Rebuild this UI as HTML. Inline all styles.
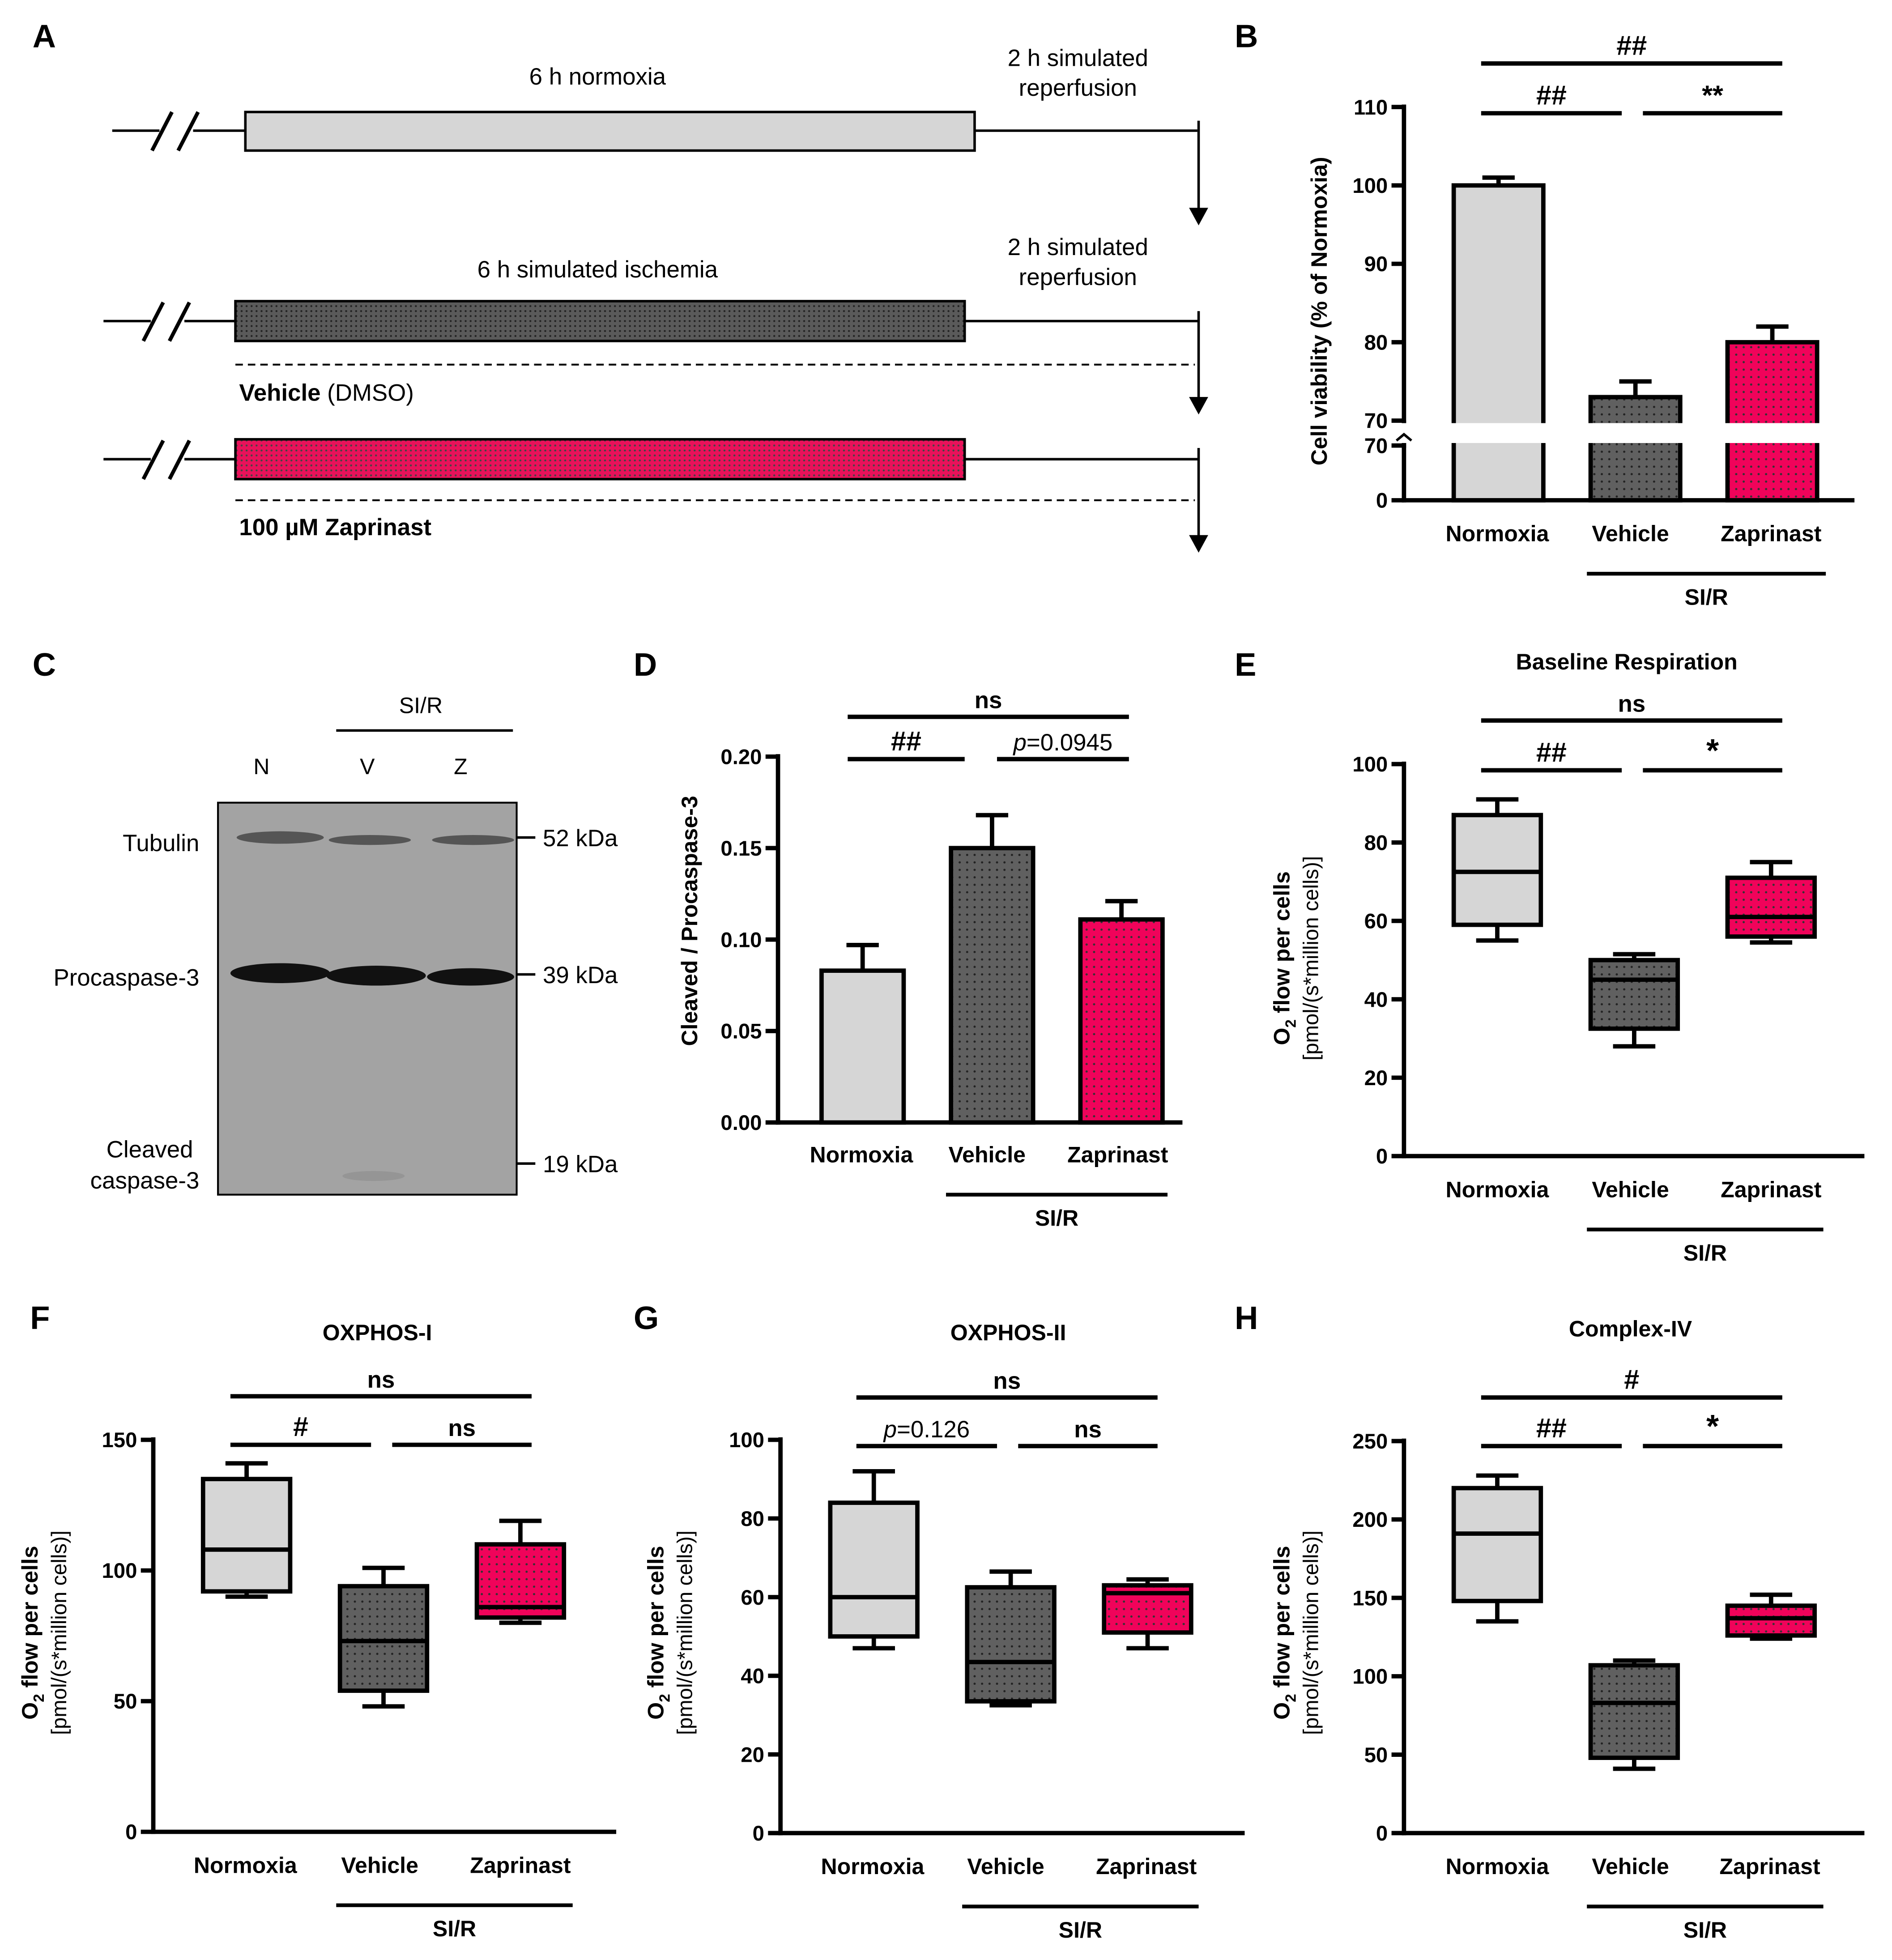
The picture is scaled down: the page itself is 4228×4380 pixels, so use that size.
<!DOCTYPE html>
<html><head><meta charset="utf-8"><style>
html,body{margin:0;padding:0;background:#fff}
svg{display:block}
text{font-family:"Liberation Sans",Arial,sans-serif;fill:#000}
.b{font-weight:bold}
</style></head><body>
<svg id="fig" width="4228" height="4380" viewBox="0 0 1520 1575" xmlns="http://www.w3.org/2000/svg">
<defs>
<pattern id="dotD" width="6" height="6" patternUnits="userSpaceOnUse"><rect width="6" height="6" fill="#606060"/><circle cx="3" cy="3" r="0.9" fill="#222"/></pattern>
<pattern id="dotP" width="6" height="6" patternUnits="userSpaceOnUse"><rect width="6" height="6" fill="#f0035a"/><circle cx="3" cy="3" r="0.9" fill="#333"/></pattern>
<pattern id="dotS" width="4" height="4" patternUnits="userSpaceOnUse"><rect width="4" height="4" fill="#5a5a5a"/><circle cx="2" cy="2" r="0.8" fill="#222"/></pattern>
<pattern id="dotSP" width="4" height="4" patternUnits="userSpaceOnUse"><rect width="4" height="4" fill="#e8125a"/><circle cx="2" cy="2" r="0.8" fill="#444"/></pattern>
</defs>

<!-- Panel A -->
<g stroke="#000" stroke-width="2">
<text x="26" y="38" class="b" font-size="26" stroke="none">A</text>
<line x1="90" y1="105" x2="962" y2="105"/>
<rect x="197" y="90" width="586" height="31" fill="#d6d6d6"/>
<line x1="83" y1="258" x2="963" y2="258"/>
<rect x="189" y="242" width="586" height="32" fill="url(#dotS)"/>
<line x1="189" y1="293" x2="960" y2="293" stroke-dasharray="6,4" stroke-width="1.5"/>
<line x1="83" y1="369" x2="963" y2="369"/>
<rect x="189" y="353" width="586" height="32" fill="url(#dotSP)"/>
<line x1="189" y1="402" x2="960" y2="402" stroke-dasharray="6,4" stroke-width="1.5"/>
<line x1="963" y1="97" x2="963" y2="172"/><path d="M957,168 L963,179 L969,168Z" fill="#000"/>
<line x1="963" y1="250" x2="963" y2="324"/><path d="M957,320 L963,331 L969,320Z" fill="#000"/>
<line x1="963" y1="360" x2="963" y2="435"/><path d="M957,431 L963,442 L969,431Z" fill="#000"/>
<g stroke="#fff" stroke-width="8"><line x1="128" y1="105" x2="155" y2="105"/><line x1="121" y1="258" x2="148" y2="258"/><line x1="121" y1="369" x2="148" y2="369"/></g>
<g stroke-width="3"><line x1="122" y1="121" x2="138" y2="90"/><line x1="143" y1="121" x2="159" y2="90"/>
<line x1="115" y1="274" x2="131" y2="243"/><line x1="136" y1="274" x2="152" y2="243"/>
<line x1="115" y1="385" x2="131" y2="354"/><line x1="136" y1="385" x2="152" y2="354"/></g>
<g stroke="none" font-size="19" text-anchor="middle">
<text x="480" y="68">6 h normoxia</text>
<text x="866" y="53">2 h simulated</text><text x="866" y="77">reperfusion</text>
<text x="480" y="223">6 h simulated ischemia</text>
<text x="866" y="205">2 h simulated</text><text x="866" y="229">reperfusion</text>
<text x="192" y="322" text-anchor="start"><tspan class="b">Vehicle</tspan> (DMSO)</text>
<text x="192" y="430" text-anchor="start" class="b">100 µM Zaprinast</text>
</g>
</g>

<!-- Panel C -->
<g>
<text x="26" y="543" class="b" font-size="26">C</text>
<text x="338" y="573" font-size="18" text-anchor="middle">SI/R</text>
<line x1="270" y1="587" x2="412" y2="587" stroke="#000" stroke-width="2"/>
<text x="210" y="622" font-size="18" text-anchor="middle">N</text>
<text x="295" y="622" font-size="18" text-anchor="middle">V</text>
<text x="370" y="622" font-size="18" text-anchor="middle">Z</text>
<rect x="175" y="645" width="240" height="315" fill="#a3a3a3" stroke="#000" stroke-width="1.5"/>
<g fill="#555"><ellipse cx="225" cy="673" rx="35" ry="5"/><ellipse cx="297" cy="675" rx="33" ry="4"/><ellipse cx="380" cy="675" rx="33" ry="4"/></g>
<g fill="#111"><ellipse cx="225" cy="782" rx="40" ry="8"/><ellipse cx="302" cy="784" rx="40" ry="8"/><ellipse cx="378" cy="785" rx="35" ry="7"/></g>
<ellipse cx="300" cy="945" rx="25" ry="4" fill="#959595"/>
<g font-size="19" text-anchor="end"><text x="160" y="684">Tubulin</text><text x="160" y="792">Procaspase-3</text><text x="155" y="930">Cleaved</text><text x="160" y="955">caspase-3</text></g>
<g stroke="#000" stroke-width="2"><line x1="415" y1="673" x2="430" y2="673"/><line x1="415" y1="783" x2="430" y2="783"/><line x1="415" y1="935" x2="430" y2="935"/></g>
<g font-size="19"><text x="436" y="680">52 kDa</text><text x="436" y="790">39 kDa</text><text x="436" y="942">19 kDa</text></g>
</g>
<g id="charts"></g>
</svg>
<script>
// ---- Panel B data (bar, broken axis) ----
const bCats = ["Normoxia","Vehicle","Zaprinast"];
const bMeans = [100, 73, 80];
const bErr = [1, 2, 2];
const bTicksUpper = [70, 80, 90, 100, 110];
const bTicksLower = [0, 70];
// ---- Panel D data (bar) ----
const dCats = ["Normoxia","Vehicle","Zaprinast"];
const dMeans = [0.083, 0.150, 0.111];
const dErr = [0.014, 0.018, 0.010];
const dTicks = [0, 0.05, 0.10, 0.15, 0.20];
const dTickLabels = ["0.00","0.05","0.10","0.15","0.20"];
// ---- Box plots: [min, q1, median, q3, max] ----
const eBoxes = [[55,59,72.5,87,91],[28,32.5,45,50,51.5],[54.5,56,61,71,75]];
const eTicks = [0,20,40,60,80,100];
const fBoxes = [[90,92,108,135,141],[48,54,73,94,101],[80,82,86,110,119]];
const fTicks = [0,50,100,150];
const gBoxes = [[47,50,60,84,92],[32.5,33.5,43.5,62.5,66.5],[47,51,61,63,64.5]];
const gTicks = [0,20,40,60,80,100];
const hBoxes = [[135,148,191,220,228],[41,48,83,107,110],[124,126,137,145,152]];
const hTicks = [0,50,100,150,200,250];

const NS="http://www.w3.org/2000/svg";
const root=document.getElementById('charts');
const fills=["#d6d6d6","url(#dotD)","url(#dotP)"];
function mk(tag,attrs,parent,txt){const e=document.createElementNS(NS,tag);for(const k in attrs)e.setAttribute(k,attrs[k]);if(txt!==undefined)e.textContent=txt;(parent||root).appendChild(e);return e;}
function ln(p,x1,y1,x2,y2,w){return mk('line',{x1,y1,x2,y2,stroke:'#000','stroke-width':w||3.5},p);}
function txt(p,x,y,s,o){const a=Object.assign({x,y,'font-size':18,'font-weight':'bold','text-anchor':'middle'},o||{});return mk('text',a,p,s);}

function panel(cfg){
  const g=mk('g',{});
  
  
  txt(g,cfg.lx,cfg.ly,cfg.letter,{'font-size':26,'text-anchor':'start'});
  if(cfg.title) txt(g,cfg.tx,cfg.ty,cfg.title,{'font-size':18});
  const y=v=>cfg.y0-(v-cfg.vmin)*(cfg.y0-cfg.y1)/(cfg.vmax-cfg.vmin);
  const ax=ln(g,cfg.ax,cfg.y1-2,cfg.ax,cfg.y0+1.75);
  
  
  const xa=ln(g,cfg.ax-1.75,cfg.y0,cfg.xend,cfg.y0);
  
  
  cfg.ticks.forEach((t,i)=>{
    ln(g,cfg.ax-10,y(t),cfg.ax,y(t));
    const lb=txt(g,cfg.ax-13,y(t)+6,cfg.tickLabels?cfg.tickLabels[i]:String(t),{'text-anchor':'end','font-size':17});
    
    
  });
  cfg.cats.forEach((c,i)=>{
    const l=txt(g,cfg.labx[i],cfg.laby,c);
    
    
  });
  ln(g,cfg.sirx1,cfg.laby+26,cfg.sirx2,cfg.laby+26,3);
  txt(g,(cfg.sirx1+cfg.sirx2)/2,cfg.laby+51,'SI/R');
  cfg.sig.forEach(s=>{ln(g,s[0],s[2],s[1],s[2],3.5);const t=mk('text',{x:(s[0]+s[1])/2,y:s[2]-7,'font-size':s[4]||22,'font-weight':'bold','text-anchor':'middle'},g);
    if(s[3].startsWith('p=')){mk('tspan',{'font-style':'italic','font-weight':'normal'},t,'p');mk('tspan',{'font-weight':'normal'},t,s[3].slice(1));}else t.textContent=s[3];
    
    });
  const yt=mk('text',{transform:`translate(${cfg.ytx},${cfg.ytc}) rotate(-90)`,'text-anchor':'middle','font-size':18},g);
  if(cfg.o2){mk('tspan',{'font-weight':'bold'},yt,'O');mk('tspan',{'font-weight':'bold','font-size':12,dy:5},yt,'2');mk('tspan',{'font-weight':'bold',dy:-5},yt,' flow per cells');
    const y2=mk('text',{transform:`translate(${cfg.ytx+23},${cfg.ytc}) rotate(-90)`,'text-anchor':'middle','font-size':17},g,'[pmol/(s*million cells)]');
    
    }
  else{yt.textContent=cfg.ytitle;yt.setAttribute('font-weight','bold');}
  
  
  return {g,y};
}
function boxes(cfg,data){
  const {g,y}=panel(cfg);
  data.forEach((d,i)=>{
    const x0=cfg.bx[i],w=70,cx=x0+w/2;
    const bg=mk('g',{},g);
    
    
    ln(bg,cx,y(d[0]),cx,y(d[1]));ln(bg,cx,y(d[3]),cx,y(d[4]));
    ln(bg,cx-17,y(d[0]),cx+17,y(d[0]));ln(bg,cx-17,y(d[4]),cx+17,y(d[4]));
    mk('rect',{x:x0,y:y(d[3]),width:w,height:y(d[1])-y(d[3]),fill:fills[i],stroke:'#000','stroke-width':3.5},bg);
    ln(bg,x0,y(d[2]),x0+w,y(d[2]));
  });
}
function bars(cfg,means,errs,w){
  const {g,y}=panel(cfg);
  means.forEach((m,i)=>{
    const x0=cfg.bx[i],cx=x0+w/2;
    const bg=mk('g',{},g);
    
    
    ln(bg,cx,y(m),cx,y(m+errs[i]));ln(bg,cx-13,y(m+errs[i]),cx+13,y(m+errs[i]));
    mk('rect',{x:x0,y:y(m),width:w,height:cfg.y0-y(m),fill:fills[i],stroke:'#000','stroke-width':3.5},bg);
  });
  return {g,y};
}

// Panel B (broken axis)
(function(){
  const cfg={name:'panel-b-cell-viability',letter:'B',lx:992,ly:38,ax:1128,y0:402,y1:86,vmin:0,vmax:110,xend:1490,ticks:[],cats:bCats,labx:[1203,1310,1423],laby:435,sirx1:1275,sirx2:1467,
    sig:[[1190,1432,51,'##'],[1190,1303,91,'##'],[1320,1432,91,'**']],ytx:1066,ytc:250,ytitle:'Cell viability (% of Normoxia)'};
  const {g}=panel(cfg);
  const yu=v=>338-(v-70)*6.3;
  const yl=v=>402-v*(44/70);
  const bx=[1168,1278,1388];
  bMeans.forEach((m,i)=>{
    const x0=bx[i],w=72,cx=x0+w/2;
    const bg=mk('g',{},g);
    
    
    ln(bg,cx,yu(m),cx,yu(m+bErr[i]));ln(bg,cx-13,yu(m+bErr[i]),cx+13,yu(m+bErr[i]));
    mk('rect',{x:x0,y:yu(m),width:w,height:402-yu(m),fill:fills[i],stroke:'#000','stroke-width':3.5},bg);
  });
  mk('rect',{x:1126,y:340,width:354,height:16,fill:'#fff'},g);
  ln(g,1128,338,1128,340,3.5);
  ln(g,1128,356,1128,360,3.5);
  mk('path',{d:'M1122,354 L1128,349 L1134,354',fill:'none',stroke:'#000','stroke-width':2},g);
  bTicksUpper.forEach(t=>{ln(g,1118,yu(t),1128,yu(t));const l=txt(g,1115,yu(t)+6,String(t),{'text-anchor':'end','font-size':17});});
  bTicksLower.forEach(t=>{ln(g,1118,yl(t),1128,yl(t));const l=txt(g,1115,yl(t)+6,String(t),{'text-anchor':'end','font-size':17});});
})();

bars({name:'panel-d-cleaved-caspase',letter:'D',lx:509,ly:543,ax:625,y0:902,y1:608,vmin:0,vmax:0.20,xend:950,ticks:dTicks,tickLabels:dTickLabels,cats:dCats,labx:[692,793,898],laby:934,sirx1:760,sirx2:938,
  sig:[[681,907,576,'ns',19],[681,775,610,'##'],[801,907,610,'p=0.0945',19]],ytx:560,ytc:740,ytitle:'Cleaved / Procaspase-3',bx:[660,764,868]},dMeans,dErr,66);

boxes({name:'panel-e-baseline-respiration',letter:'E',lx:992,ly:543,title:'Baseline Respiration',tx:1307,ty:538,ax:1128,y0:929,y1:614,vmin:0,vmax:100,xend:1498,ticks:eTicks,cats:["Normoxia","Vehicle","Zaprinast"],labx:[1203,1310,1423],laby:962,sirx1:1275,sirx2:1465,
  sig:[[1190,1432,579,'ns',19],[1190,1303,619,'##'],[1320,1432,619,'*',26]],ytx:1036,ytc:770,o2:true,bx:[1168,1278,1388]},eBoxes);

boxes({name:'panel-f-oxphos-i',letter:'F',lx:24,ly:1068,title:'OXPHOS-I',tx:303,ty:1077,ax:123,y0:1472,y1:1157,vmin:0,vmax:150,xend:495,ticks:fTicks,cats:["Normoxia","Vehicle","Zaprinast"],labx:[197,305,418],laby:1505,sirx1:270,sirx2:460,
  sig:[[185,427,1122,'ns',19],[185,298,1161,'#'],[315,427,1161,'ns',19]],ytx:30,ytc:1312,o2:true,bx:[163,273,383]},fBoxes);

boxes({name:'panel-g-oxphos-ii',letter:'G',lx:509,ly:1068,title:'OXPHOS-II',tx:810,ty:1077,ax:627,y0:1473,y1:1157,vmin:0,vmax:100,xend:1000,ticks:gTicks,cats:["Normoxia","Vehicle","Zaprinast"],labx:[701,808,921],laby:1506,sirx1:773,sirx2:963,
  sig:[[688,930,1123,'ns',19],[688,801,1162,'p=0.126',19],[818,930,1162,'ns',19]],ytx:533,ytc:1312,o2:true,bx:[667,777,887]},gBoxes);

boxes({name:'panel-h-complex-iv',letter:'H',lx:992,ly:1068,title:'Complex-IV',tx:1310,ty:1074,ax:1128,y0:1473,y1:1158,vmin:0,vmax:250,xend:1498,ticks:hTicks,cats:["Normoxia","Vehicle","Zaprinast"],labx:[1203,1310,1422],laby:1506,sirx1:1275,sirx2:1465,
  sig:[[1190,1432,1123,'#'],[1190,1303,1162,'##'],[1320,1432,1162,'*',26]],ytx:1036,ytc:1312,o2:true,bx:[1168,1278,1388]},hBoxes);
</script>
</body></html>
